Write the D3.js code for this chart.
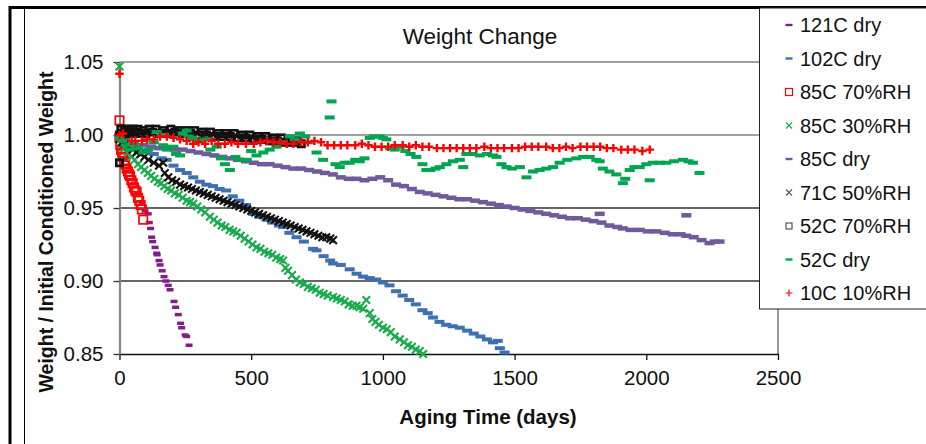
<!DOCTYPE html>
<meta charset="utf-8" />
<script src="https://d3js.org/d3.v7.min.js"></script>
<style>
  body { margin: 0; background: #fff; }
  svg { font-family: "Liberation Sans", Arial, sans-serif; display: block; }
</style>
<div id="chart"></div>
<script>
  // ---- data: [aging time (days), weight / initial conditioned weight] ----
  const dry121 = [[0,1.000],[10,0.993],[25,0.984],[40,0.975],[55,0.967],[70,0.960],[85,0.953],[97,0.948],
    [109,0.946],[113,0.940],[118,0.936],[122,0.930],[126,0.927],[135,0.923],[141,0.919],[143,0.918],[150,0.914],
    [154,0.911],[162,0.907],[169,0.903],[176,0.900],[185,0.897],[192,0.894],[207,0.886],[213,0.882],[223,0.877],
    [232,0.871],[236,0.868],[249,0.863],[255,0.862],[264,0.856]];

  const dry102 = [[0,1.000],[20,0.997],[45,0.994],[70,0.991],[103,0.989],[130,0.987],[160,0.984],[179,0.983],
    [205,0.979],[230,0.976],[255,0.974],[280,0.971],[305,0.968],[330,0.966],[355,0.965],[380,0.963],[405,0.962],
    [430,0.958],[455,0.955],[480,0.952],[508,0.946],[530,0.944],[558,0.942],[580,0.940],[605,0.938],[621,0.937],
    [645,0.933],[672,0.930],[700,0.927],[735,0.922],[748,0.921],[775,0.917],[800,0.914],[811,0.912],[840,0.911],
    [874,0.908],[900,0.905],[925,0.903],[950,0.902],[975,0.901],[1000,0.899],[1025,0.897],[1050,0.893],[1075,0.890],
    [1100,0.887],[1125,0.884],[1150,0.880],[1170,0.878],[1190,0.875],[1215,0.872],[1240,0.870],[1265,0.869],
    [1292,0.868],[1320,0.866],[1345,0.864],[1370,0.862],[1395,0.860],[1418,0.858],[1436,0.859],[1444,0.854],[1462,0.851]];

  const rh70at85 = [[0,1.010],[0,0.998],[3,0.993],[6,0.990],[10,0.988],[14,0.985],[18,0.982],[22,0.980],[27,0.977],
    [32,0.975],[36,0.973],[40,0.972],[45,0.969],[50,0.967],[55,0.964],[60,0.962],[65,0.961],[70,0.957],[75,0.955],
    [80,0.952],[85,0.949],[90,0.942]];

  const rh30at85 = [[0,1.047],[0,0.997],[10,0.994],[20,0.991],[32,0.988],[45,0.985],[58,0.983],[70,0.980],[82,0.978],
    [95,0.976],[108,0.974],[120,0.972],[133,0.970],[146,0.968],[158,0.967],[170,0.965],[183,0.963],[196,0.962],
    [210,0.960],[225,0.959],[240,0.957],[255,0.955],[268,0.954],[280,0.953],[295,0.951],[310,0.949],[325,0.947],
    [343,0.944],[358,0.942],[372,0.940],[388,0.938],[402,0.937],[418,0.935],[432,0.934],[445,0.933],[460,0.931],
    [475,0.929],[490,0.927],[505,0.925],[520,0.923],[535,0.922],[550,0.920],[565,0.919],[580,0.918],[595,0.916],
    [610,0.915],[621,0.914],[630,0.909],[640,0.907],[655,0.904],[670,0.901],[685,0.899],[700,0.898],[715,0.896],
    [730,0.895],[745,0.894],[760,0.892],[775,0.891],[790,0.890],[811,0.889],[825,0.888],[840,0.887],[855,0.886],
    [870,0.884],[885,0.883],[900,0.883],[912,0.882],[925,0.881],[937,0.887],[950,0.878],[960,0.874],[972,0.872],
    [985,0.870],[1000,0.868],[1015,0.867],[1030,0.865],[1045,0.862],[1064,0.860],[1080,0.858],[1095,0.856],
    [1110,0.855],[1125,0.853],[1140,0.852],[1153,0.850]];

  const dry85 = [[0,1.000],[20,0.997],[40,0.995],[65,0.993],[90,0.993],[120,0.992],[150,0.991],[180,0.991],
    [210,0.990],[240,0.990],[270,0.989],[300,0.988],[330,0.987],[360,0.986],[390,0.985],[420,0.984],[450,0.983],
    [480,0.982],[510,0.981],[540,0.980],[570,0.980],[600,0.979],[630,0.978],[660,0.977],[690,0.977],[720,0.976],
    [750,0.975],[780,0.974],[810,0.973],[840,0.971],[870,0.970],[900,0.970],[930,0.969],[960,0.970],[990,0.971],
    [1020,0.969],[1050,0.966],[1080,0.965],[1110,0.963],[1140,0.961],[1170,0.960],[1200,0.959],[1230,0.958],
    [1260,0.957],[1290,0.956],[1320,0.956],[1350,0.955],[1380,0.954],[1410,0.953],[1440,0.952],[1470,0.951],
    [1500,0.950],[1530,0.949],[1560,0.948],[1590,0.947],[1620,0.946],[1650,0.945],[1680,0.944],[1710,0.943],
    [1740,0.943],[1770,0.942],[1800,0.941],[1823,0.946],[1830,0.940],[1860,0.938],[1890,0.937],[1911,0.936],
    [1940,0.935],[1975,0.935],[2005,0.934],[2038,0.934],[2070,0.933],[2100,0.932],[2130,0.932],[2152,0.931],
    [2152,0.945],[2180,0.930],[2210,0.928],[2240,0.926],[2260,0.927],[2278,0.927]];

  const rh50at71 = [[0,0.997],[10,0.995],[20,0.994],[35,0.992],[50,0.990],[65,0.988],[80,0.987],[95,0.985],
    [110,0.983],[130,0.981],[150,0.979],[166,0.981],[172,0.974],[185,0.971],[200,0.969],[215,0.968],[230,0.966],
    [245,0.965],[260,0.964],[275,0.963],[290,0.962],[305,0.961],[320,0.960],[335,0.959],[350,0.958],[365,0.957],
    [380,0.956],[395,0.955],[410,0.954],[425,0.953],[440,0.952],[455,0.951],[470,0.950],[485,0.949],[500,0.948],
    [515,0.947],[530,0.946],[545,0.945],[560,0.944],[575,0.943],[590,0.942],[605,0.941],[620,0.940],[635,0.939],
    [650,0.938],[665,0.937],[680,0.936],[695,0.935],[710,0.934],[725,0.933],[740,0.932],[755,0.931],[770,0.930],
    [785,0.930],[800,0.929],[811,0.928]];

  const rh70at52 = [[0,0.981],[0,1.000],[5,1.004],[12,1.001],[20,1.004],[28,1.002],[36,1.004],[44,1.001],
    [52,1.004],[60,1.002],[70,1.004],[80,1.001],[90,1.003],[100,1.001],[112,1.004],[125,1.002],[138,1.004],
    [150,1.001],[165,1.003],[180,1.001],[195,1.004],[210,1.002],[225,1.003],[240,1.001],[255,1.003],[270,1.001],
    [285,1.003],[300,1.000],[315,1.002],[330,1.000],[345,1.002],[360,0.999],[375,1.001],[390,0.999],[405,1.001],
    [420,0.999],[435,1.001],[450,0.998],[465,1.000],[480,0.998],[495,1.000],[510,0.997],[525,0.999],[540,0.997],
    [555,0.999],[570,0.996],[585,0.998],[600,0.996],[615,0.998],[630,0.995],[645,0.997],[660,0.995],[675,0.996],
    [690,0.994]];

  const dry52 = [[0,0.998],[10,0.996],[25,0.993],[40,0.990],[55,0.994],[70,0.991],[90,0.988],[110,0.990],
    [130,0.995],[141,1.002],[160,1.000],[166,0.993],[180,0.990],[204,0.992],[215,0.987],[230,0.986],[240,1.001],
    [255,1.003],[262,0.999],[275,0.998],[290,0.997],[310,0.996],[331,0.997],[345,0.990],[369,0.992],[385,0.984],
    [400,0.980],[419,0.976],[440,0.985],[460,0.983],[483,0.983],[500,0.989],[520,0.986],[546,0.988],[570,0.990],
    [596,0.992],[620,0.995],[647,0.999],[665,0.997],[685,1.001],[705,0.999],[725,0.995],[748,0.988],[773,0.983],
    [798,1.012],[805,1.023],[820,0.980],[836,0.978],[855,0.981],[874,0.981],[895,0.983],[912,0.982],[930,0.984],
    [950,0.998],[965,0.999],[988,0.999],[1000,0.998],[1013,0.997],[1026,0.991],[1045,0.990],[1064,0.992],
    [1085,0.989],[1105,0.987],[1127,0.985],[1150,0.980],[1165,0.976],[1180,0.976],[1200,0.977],[1216,0.978],
    [1241,0.980],[1266,0.982],[1292,0.983],[1305,0.978],[1317,0.987],[1340,0.987],[1368,0.986],[1395,0.987],
    [1418,0.986],[1431,0.985],[1450,0.980],[1469,0.978],[1490,0.977],[1520,0.978],[1545,0.971],[1570,0.975],
    [1595,0.976],[1620,0.977],[1646,0.978],[1671,0.981],[1700,0.983],[1734,0.984],[1760,0.985],[1785,0.985],
    [1810,0.983],[1823,0.982],[1835,0.977],[1860,0.975],[1886,0.973],[1911,0.967],[1920,0.970],[1937,0.976],
    [1955,0.978],[1975,0.978],[2000,0.980],[2013,0.969],[2025,0.981],[2050,0.981],[2076,0.981],[2105,0.982],
    [2139,0.983],[2160,0.982],[2177,0.981],[2202,0.974]];

  const rh10at10 = [[0,1.042],[0,1.000],[14,1.001],[46,0.996],[60,0.996],[85,0.996],[105,0.997],[130,0.997],
    [154,0.999],[180,0.999],[205,0.998],[230,0.997],[255,0.996],[280,0.994],[300,0.995],[325,0.994],[350,0.996],
    [375,0.994],[400,0.994],[425,0.995],[450,0.994],[480,0.994],[510,0.994],[535,0.995],[560,0.996],[585,0.995],
    [610,0.995],[635,0.994],[660,0.994],[690,0.995],[715,0.995],[740,0.996],[765,0.995],[790,0.993],[815,0.993],
    [840,0.993],[865,0.993],[895,0.993],[920,0.994],[945,0.993],[970,0.992],[995,0.992],[1020,0.992],[1045,0.993],
    [1075,0.993],[1100,0.992],[1125,0.993],[1150,0.992],[1175,0.992],[1205,0.991],[1230,0.991],[1255,0.991],
    [1280,0.991],[1305,0.991],[1330,0.991],[1355,0.991],[1385,0.992],[1410,0.991],[1435,0.991],[1460,0.991],
    [1490,0.991],[1515,0.991],[1540,0.992],[1565,0.992],[1590,0.992],[1620,0.992],[1645,0.991],[1670,0.991],
    [1695,0.992],[1720,0.991],[1750,0.992],[1775,0.992],[1800,0.992],[1825,0.992],[1850,0.991],[1875,0.991],
    [1905,0.990],[1930,0.990],[1955,0.990],[1985,0.989],[2013,0.990]];

  const xTicks = [0, 500, 1000, 1500, 2000, 2500];
  const yTicks = [0.85, 0.90, 0.95, 1.00, 1.05];

  const series = [
    { name: '121C dry',  data: dry121,   shape: 'dash',   color: '#7f1f87', w: 7, h: 3.5 },
    { name: '102C dry',  data: dry102,   shape: 'dash',   color: '#3f6fae', w: 10, h: 4 },
    { name: '85C 70%RH', data: rh70at85, shape: 'square', color: '#ff0000' },
    { name: '85C 30%RH', data: rh30at85, shape: 'x',      color: '#1aab4c' },
    { name: '85C dry',   data: dry85,    shape: 'dash',   color: '#6f5b9c', w: 10, h: 4.5 },
    { name: '71C 50%RH', data: rh50at71, shape: 'x',      color: '#111111', legendColor: '#555' },
    { name: '52C 70%RH', data: rh70at52, shape: 'small',  color: '#111111', legendColor: '#444' },
    { name: '52C dry',   data: dry52,    shape: 'dash',   color: '#00a550', w: 10, h: 4 },
    { name: '10C 10%RH', data: rh10at10, shape: 'plus',   color: '#ff0000' }
  ];

  const W = 926, H = 444;
  const font = '"Liberation Sans", Arial, sans-serif';
  const svg = d3.select('#chart').append('svg').attr('width', W).attr('height', H);
  svg.append('rect').attr('width', W).attr('height', H).attr('fill', '#fff');

  // outer frame
  svg.append('line').attr('x1', 10).attr('x2', 10).attr('y1', 6).attr('y2', H).attr('stroke', '#000').attr('stroke-width', 3);
  svg.append('line').attr('x1', 9).attr('x2', W).attr('y1', 7.5).attr('y2', 7.5).attr('stroke', '#000').attr('stroke-width', 3);
  svg.append('line').attr('x1', 24.5).attr('x2', 24.5).attr('y1', 8).attr('y2', H).attr('stroke', '#000').attr('stroke-width', 1);

  const x = d3.scaleLinear().domain([0, 2500]).range([119.5, 778]);
  const y = d3.scaleLinear().domain([0.85, 1.05]).range([354, 62]);

  // gridlines
  svg.append('g').selectAll('line')
    .data(yTicks.slice(1))
    .join('line')
    .attr('x1', x(0)).attr('x2', x(2500))
    .attr('y1', d => y(d)).attr('y2', d => y(d))
    .attr('stroke', (d, i) => i < 2 ? '#333' : '#808080')
    .attr('stroke-width', 1.3);
  svg.append('line').attr('x1', x(2500)).attr('x2', x(2500)).attr('y1', y(1.05)).attr('y2', y(0.85))
    .attr('stroke', '#999').attr('stroke-width', 2);

  // axes
  const gx = svg.append('g')
    .attr('transform', `translate(0,${y(0.85)})`)
    .call(d3.axisBottom(x).tickValues(xTicks).tickFormat(d3.format('d')).tickSize(6).tickPadding(10).tickSizeOuter(0));
  gx.select('.domain').attr('stroke', '#111').attr('stroke-width', 1.6);
  gx.selectAll('.tick line').attr('stroke', '#111').attr('stroke-width', 1.3);
  gx.selectAll('text').style('font-size', '20.5px').attr('fill', '#111').style('font-family', font);

  const gy = svg.append('g')
    .attr('transform', `translate(${x(0)},0)`)
    .call(d3.axisLeft(y).tickValues(yTicks).tickFormat(d3.format('.2f')).tickSize(6).tickPadding(10).tickSizeOuter(0));
  gy.select('.domain').attr('stroke', '#888').attr('stroke-width', 2.2);
  gy.selectAll('.tick line').attr('stroke', '#333').attr('stroke-width', 1.3);
  gy.selectAll('text').style('font-size', '20.5px').attr('fill', '#111').style('font-family', font);

  // marker drawing
  function drawMarker(sel, s) {
    const color = s.color;
    if (s.shape === 'dash') {
      sel.append('rect').attr('x', -s.w / 2).attr('y', -s.h / 2).attr('width', s.w).attr('height', s.h).attr('fill', color);
    } else if (s.shape === 'square') {
      sel.append('rect').attr('x', -4.2).attr('y', -4.2).attr('width', 8.4).attr('height', 8.4)
        .attr('fill', 'none').attr('stroke', color).attr('stroke-width', 1.7);
    } else if (s.shape === 'small') {
      sel.append('rect').attr('x', -3.2).attr('y', -3.2).attr('width', 6.4).attr('height', 6.4)
        .attr('fill', 'none').attr('stroke', color).attr('stroke-width', 2.6);
    } else if (s.shape === 'x') {
      sel.append('path').attr('d', 'M-3.8,-3.8L3.8,3.8M-3.8,3.8L3.8,-3.8')
        .attr('stroke', color).attr('stroke-width', 2.1).attr('fill', 'none');
    } else if (s.shape === 'plus') {
      sel.append('path').attr('d', 'M-4.2,0L4.2,0M0,-4.2L0,4.2')
        .attr('stroke', color).attr('stroke-width', 2.4).attr('fill', 'none');
    }
  }

  // points
  const plot = svg.append('g');
  series.forEach(s => {
    plot.append('g').selectAll('g')
      .data(s.data)
      .join('g')
      .attr('transform', d => `translate(${x(d[0])},${y(d[1])})`)
      .each(function () { drawMarker(d3.select(this), s); });
  });

  // title
  svg.append('text')
    .attr('x', 480).attr('y', 44)
    .attr('text-anchor', 'middle')
    .style('font-size', '22.5px')
    .attr('fill', '#111')
    .text('Weight Change');

  // axis titles
  svg.append('text')
    .attr('transform', 'translate(53,232) rotate(-90)')
    .attr('text-anchor', 'middle')
    .style('font-size', '19.5px')
    .style('font-weight', 'bold')
    .attr('fill', '#111')
    .text('Weight / Initial Conditioned Weight');

  svg.append('text')
    .attr('x', 488).attr('y', 424)
    .attr('text-anchor', 'middle')
    .style('font-size', '20.5px')
    .style('font-weight', 'bold')
    .attr('fill', '#111')
    .text('Aging Time (days)');

  // legend
  const legend = svg.append('g');
  legend.append('rect')
    .attr('x', 759.5).attr('y', 8).attr('width', 180).attr('height', 301)
    .attr('fill', '#fff').attr('stroke', '#222').attr('stroke-width', 1);
  series.forEach((s, i) => {
    const cy = 32 + i * 33.5;
    const m = legend.append('g').attr('transform', `translate(789,${cy - 7})`);
    drawLegendMarker(m, s.shape, s.legendColor || s.color);
    legend.append('text')
      .attr('x', 800).attr('y', cy)
      .style('font-size', '20px')
      .attr('fill', '#111')
      .text(s.name);
  });

  function drawLegendMarker(sel, shape, color) {
    if (shape === 'dash') {
      sel.append('rect').attr('x', -3.5).attr('y', -1.2).attr('width', 7).attr('height', 2.4).attr('fill', color);
    } else if (shape === 'square') {
      sel.append('rect').attr('x', -3.5).attr('y', -3.5).attr('width', 7).attr('height', 7)
        .attr('fill', 'none').attr('stroke', color).attr('stroke-width', 1.2);
    } else if (shape === 'small') {
      sel.append('rect').attr('x', -3).attr('y', -3).attr('width', 6).attr('height', 6)
        .attr('fill', 'none').attr('stroke', color).attr('stroke-width', 1.1);
    } else if (shape === 'x') {
      sel.append('path').attr('d', 'M-3,-3L3,3M-3,3L3,-3')
        .attr('stroke', color).attr('stroke-width', 1.1).attr('fill', 'none');
    } else if (shape === 'plus') {
      sel.append('path').attr('d', 'M-3.5,0L3.5,0M0,-3.5L0,3.5')
        .attr('stroke', color).attr('stroke-width', 1.2).attr('fill', 'none');
    }
  }
</script>
